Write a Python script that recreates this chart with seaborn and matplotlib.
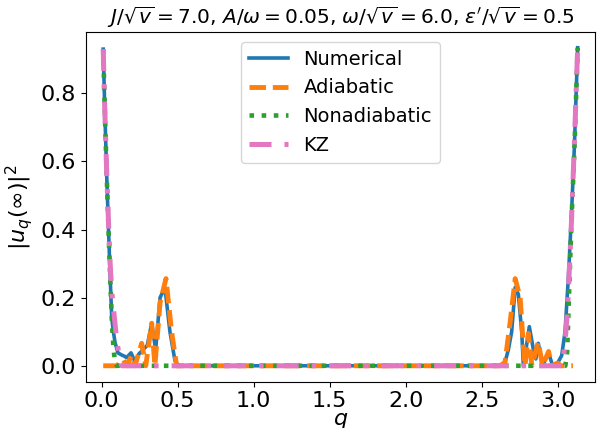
import numpy as np
import pandas as pd
import matplotlib
matplotlib.use("Agg")
import matplotlib.pyplot as plt
import seaborn as sns

# values
q_num = [0.010, 0.020, 0.033, 0.045, 0.056, 0.066, 0.077, 0.088, 0.107, 0.130, 0.150, 0.164,
         0.193, 0.219, 0.245, 0.272, 0.300, 0.329, 0.355, 0.384, 0.416, 0.449, 0.482, 0.505,
         2.630, 2.653, 2.675, 2.697, 2.720, 2.741, 2.763, 2.774, 2.795, 2.813, 2.840, 2.856,
         2.872, 2.900, 2.920, 2.940, 2.967, 2.990, 3.004, 3.026, 3.048, 3.070, 3.090, 3.110, 3.131]
v_num = [0.93, 0.76, 0.56, 0.40, 0.26, 0.142, 0.10, 0.068, 0.038, 0.032, 0.028, 0.024,
         0.038, 0.012, 0.035, 0.047, 0.060, 0.125, 0.047, 0.200, 0.230, 0.100, 0.015, 0.0,
         0.0, 0.010, 0.047, 0.100, 0.230, 0.210, 0.100, 0.0, 0.06, 0.115, 0.047, 0.02,
         0.066, 0.0, 0.02, 0.037, 0.0, 0.005, 0.012, 0.030, 0.100, 0.260, 0.440, 0.650, 0.934]

q_adi = [0.010, 0.100, 0.120, 0.142, 0.164, 0.197, 0.219, 0.263, 0.290, 0.329, 0.350, 0.384,
         0.423, 0.460, 0.493, 2.620, 2.653, 2.686, 2.720, 2.753, 2.774, 2.785, 2.807, 2.830,
         2.872, 2.900, 2.940, 2.960, 3.000, 3.020, 3.100]
v_adi = [0.0, 0.0, 0.010, 0.018, 0.0, 0.030, 0.0, 0.066, 0.0, 0.125, 0.0, 0.185,
         0.256, 0.100, 0.0, 0.0, 0.010, 0.125, 0.256, 0.200, 0.056, 0.0, 0.095, 0.0,
         0.070, 0.0, 0.042, 0.0, 0.008, 0.0, 0.0]

q_non = [0.010, 0.020, 0.033, 0.045, 0.056, 0.066, 0.078, 0.088, 0.100, 3.050, 3.062,
         3.072, 3.090, 3.110, 3.131]
v_non = [0.93, 0.76, 0.56, 0.40, 0.26, 0.142, 0.05, 0.01, 0.0, 0.0, 0.04,
         0.18, 0.42, 0.64, 0.934]

q_kz = [0.010, 0.020, 0.033, 0.045, 0.056, 0.066, 0.077, 0.099, 0.120, 0.132, 3.030,
        3.048, 3.065, 3.090, 3.110, 3.131]
v_kz = [0.93, 0.76, 0.57, 0.42, 0.30, 0.22, 0.17, 0.075, 0.016, 0.0, 0.0,
        0.066, 0.17, 0.42, 0.66, 0.934]

title = (r"$J/\sqrt{v}=7.0$, $A/\omega=0.05$, $\omega/\sqrt{v}=6.0$, "
         r"$\epsilon'/\sqrt{v}=0.5$")

fig = plt.figure(figsize=(5.99, 4.28), dpi=100)
ax = fig.add_axes([0.1436, 0.108, 0.8497, 0.817])

sns.lineplot(x=q_num, y=v_num, ax=ax, color="#1f77b4", lw=2.6, label="Numerical", sort=False)
sns.lineplot(x=q_adi, y=v_adi, ax=ax, color="#ff7f0e", lw=3.5, ls=(0, (3.4, 1.4)),
             label="Adiabatic", sort=False)
sns.lineplot(x=q_non, y=v_non, ax=ax, color="#2ca02c", lw=3.3, ls=":", label="Nonadiabatic", sort=False)
sns.lineplot(x=q_kz, y=v_kz, ax=ax, color="#e377c2", lw=3.6, ls=(0, (4.4, 2.6, 0.9, 2.6)),
             label="KZ", sort=False)

ax.set_xlim(-0.103, 3.245)
ax.set_ylim(-0.047, 0.98)
ax.set_xticks([0.0, 0.5, 1.0, 1.5, 2.0, 2.5, 3.0])
ax.set_yticks([0.0, 0.2, 0.4, 0.6, 0.8])
ax.tick_params(labelsize=16)
ax.set_xlabel(r"$q$", fontsize=16, labelpad=0)
ax.set_ylabel(r"$|u_q(\infty)|^2$", fontsize=16)
ax.set_title(title, fontsize=14.5)
ax.legend(loc="upper center", fontsize=14)

fig.savefig("out.png", dpi=100)
